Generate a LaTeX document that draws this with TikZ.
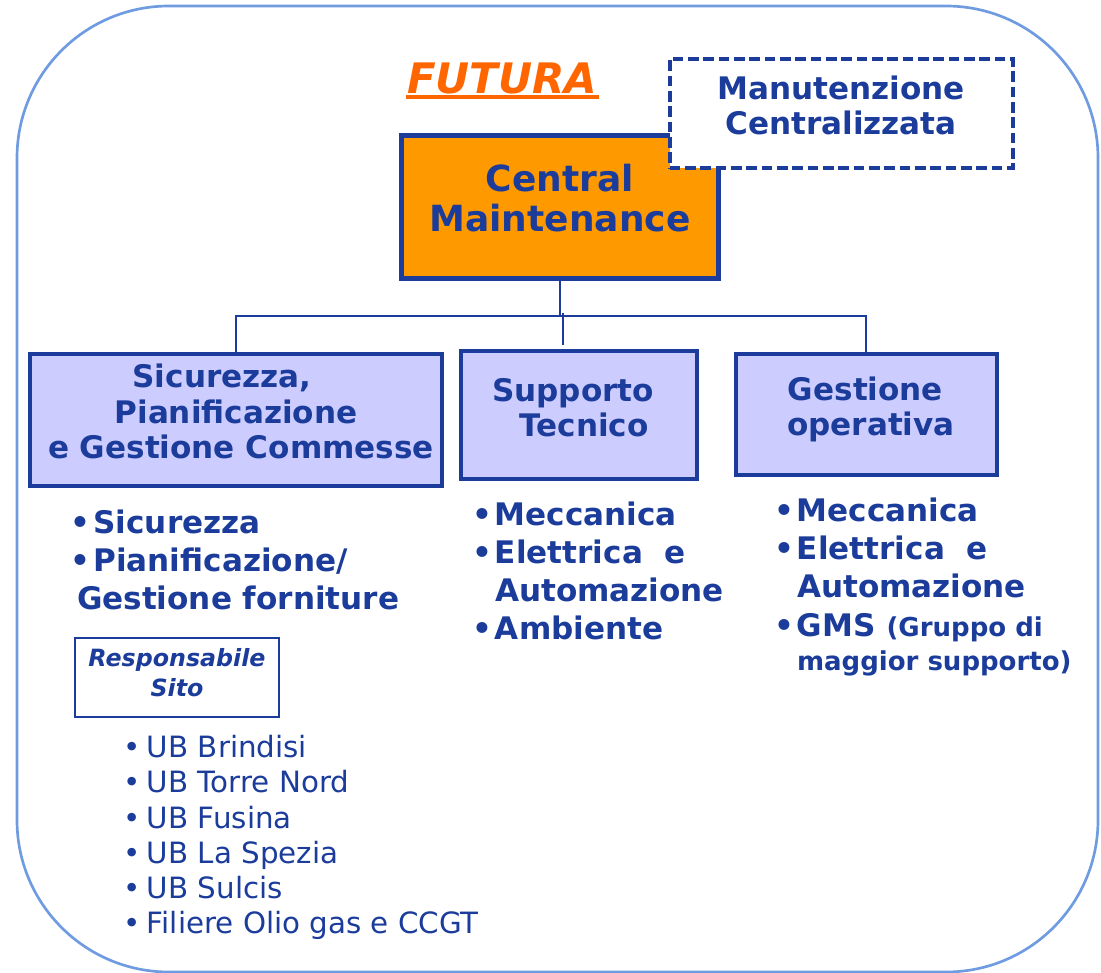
\documentclass[tikz,border=0pt]{standalone}
\usepackage{fontspec}
\setmainfont{DejaVu Sans}[BoldFont={DejaVu Sans Bold},ItalicFont={DejaVu Sans Oblique},BoldItalicFont={DejaVu Sans Bold Oblique}]
\definecolor{tblue}{RGB}{27,60,155}
\definecolor{orfill}{RGB}{255,153,0}
\definecolor{lav}{RGB}{204,204,255}
\definecolor{futor}{RGB}{255,102,0}
\definecolor{outerb}{RGB}{111,155,225}
\newcommand{\blt}{\llap{\textbullet\hspace{2pt}}}
\newcommand{\ublt}{\llap{\textbullet\hspace{5pt}}}
\tikzset{
  txt/.style={inner sep=0pt, outer sep=0pt, text=tblue, anchor=base},
  txtl/.style={txt, anchor=base west},
  bigtxt/.style={txt, font=\bfseries\fontsize{27}{30}\selectfont},
  labtxt/.style={txt, font=\bfseries\fontsize{23.3}{26}\selectfont},
  listtxt/.style={txtl, font=\bfseries\fontsize{23.3}{26}\selectfont},
  smalltxt/.style={txtl, font=\bfseries\fontsize{19.5}{22}\selectfont},
  resptxt/.style={txt, font=\bfseries\itshape\fontsize{17.8}{20}\selectfont},
  ubtxt/.style={txtl, font=\fontsize{22}{26}\selectfont},
  lavbox/.style={draw=tblue, line width=3pt, fill=lav, inner sep=0pt, rectangle},
  cmbox/.style={draw=tblue, line width=3.75pt, fill=orfill, inner sep=0pt, rectangle},
  dashbox/.style={draw=tblue, line width=3pt, fill=white, inner sep=0pt, rectangle, dash pattern=on 8pt off 3.5pt},
  respbox/.style={draw=tblue, line width=1.5pt, inner sep=0pt, rectangle},
  conn/.style={draw=tblue, line width=2pt},
  outerframe/.style={draw=outerb, line width=2pt, rounded corners=114pt},
}
\begin{document}
\begin{tikzpicture}[x=0.75pt, y=-0.75pt]
\useasboundingbox (0,0) rectangle (1101,973);
\draw[outerframe] (17,6) rectangle (1098,972);

% title
\node[txtl, text=futor, font=\bfseries\itshape\fontsize{31.5}{34}\selectfont] (futura) at (407,93.3) {FUTURA};
\draw[futor, line width=3pt] ([yshift=-2.6pt,xshift=-1pt]futura.base west) -- ([yshift=-2.6pt,xshift=1pt]futura.base east);

% central box
\node[cmbox, minimum width=237.75pt, minimum height=107pt] (cmb) at (560,206.85) {};
\node[bigtxt] (cm1) at (560,191.7) {Central};
\node[bigtxt] (cm2) at (560,231.7) {Maintenance};

% dashed box
\node[dashbox, minimum width=257.4pt, minimum height=82pt] (mcb) at (841.1,113.35) {};
\node[labtxt] (mc1) at (841,100) {Manutenzione};
\node[labtxt] (mc2) at (841,135) {Centralizzata};

% second level boxes
\node[lavbox, minimum width=309pt, minimum height=99.2pt] (sicbox) at (236,419.85) {};
\node[labtxt] (sic1) at (222,388) {Sicurezza,};
\node[labtxt] (sic2) at (236,424) {Pianificazione};
\node[labtxt] (sic3) at (241,459) {e Gestione Commesse};

\node[lavbox, minimum width=177pt, minimum height=95.8pt] (suppbox) at (578.65,414.85) {};
\node[labtxt] (sup1) at (573,402) {Supporto};
\node[labtxt] (sup2) at (584,437) {Tecnico};

\node[lavbox, minimum width=195.6pt, minimum height=90.75pt] (gestbox) at (866.2,414.2) {};
\node[labtxt] (ges1) at (865.5,401) {Gestione};
\node[labtxt] (ges2) at (871,436) {operativa};

% connectors
\coordinate (barL) at (236,316);
\coordinate (barR) at (866,316);
\coordinate (midT) at (563,313);
\draw[conn] (cmb.south) -- (cmb.south |- barL);
\draw[conn] (sicbox.north -| barL) -- (barL) -- (barR) -- (barR |- gestbox.north);
\draw[conn] (midT) -- ([yshift=3pt]suppbox.north -| midT);

% left list
\node[listtxt] (l1) at (93.5,534) {\blt Sicurezza};
\node[listtxt] (l2) at (93.5,572) {\blt Pianificazione/};
\node[listtxt] (l3) at (77,610) {Gestione forniture};

% middle list
\node[listtxt] (m1) at (495,526) {\blt Meccanica};
\node[listtxt] (m2) at (495,564) {\blt Elettrica\ \ e};
\node[listtxt] (m3) at (495,602) {Automazione};
\node[listtxt] (m4) at (495,640) {\blt Ambiente};

% right list
\node[listtxt] (r1) at (797,522) {\blt Meccanica};
\node[listtxt] (r2) at (797,560) {\blt Elettrica\ \ e};
\node[listtxt] (r3) at (797,598) {Automazione};
\node[listtxt] (r4) at (797,637) {\blt GMS {\fontsize{19.5}{22}\selectfont (Gruppo di}};
\node[smalltxt] (r5) at (797,671) {maggior supporto)};

% responsabile sito
\node[respbox, minimum width=153pt, minimum height=59.25pt] (respbox) at (177,677.5) {};
\node[resptxt] (rs1) at (177,667) {Responsabile};
\node[resptxt] (rs2) at (177,697) {Sito};

% UB list
\node[ubtxt] (u1) at (147,757.5) {\ublt UB Brindisi};
\node[ubtxt] (u2) at (147,792.7) {\ublt UB Torre Nord};
\node[ubtxt] (u3) at (147,828) {\ublt UB Fusina};
\node[ubtxt] (u4) at (147,863) {\ublt UB La Spezia};
\node[ubtxt] (u5) at (147,898) {\ublt UB Sulcis};
\node[ubtxt] (u6) at (147,933) {\ublt Filiere Olio gas e CCGT};
\end{tikzpicture}
\end{document}
